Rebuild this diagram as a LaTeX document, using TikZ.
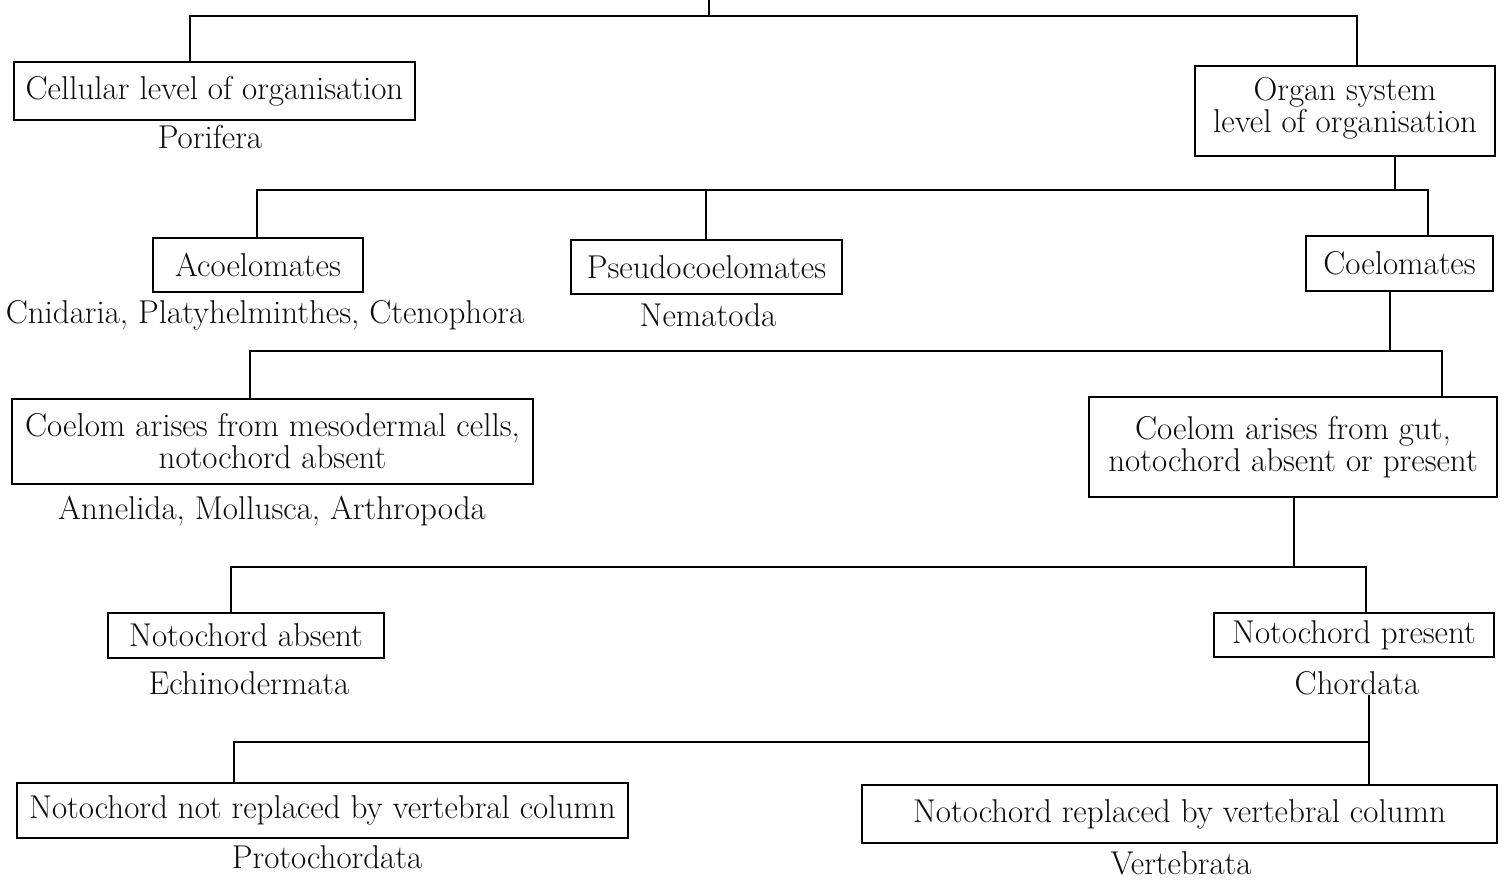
\documentclass[tikz,border=0pt]{standalone}
\begin{document}
\begin{tikzpicture}[x=0.5pt,y=-0.5pt,
  every node/.style={font=\fontsize{16.5}{16}\selectfont, text=black!95, align=center, inner sep=0pt},
  box/.style={draw=black, line width=1.2pt},
  conn/.style={draw=black, line width=1pt},
  lbl/.style={}]
\useasboundingbox[fill=white] (0,0) rectangle (1510,888);
% boxes
\node[box, minimum width=200.5pt, minimum height=29pt] (cell) at (214.5,91) {Cellular level of organisation};
\node[box, minimum width=150pt, minimum height=45pt] (organ) at (1345,111) {Organ system\\level of organisation\rule[-6pt]{0pt}{0pt}};
\node[box, minimum width=105pt, minimum height=27pt] (acoel) at (258,265) {Acoelomates};
\node[box, minimum width=135.5pt, minimum height=27pt] (pseudo) at (706.5,267) {Pseudocoelomates};
\node[box, minimum width=93.5pt, minimum height=27.5pt] (coel) at (1399.5,263.5) {Coelomates};
\node[box, minimum width=260.5pt, minimum height=42.5pt] (meso) at (272.5,441.5) {Coelom arises from mesodermal cells,\\notochord absent};
\node[box, minimum width=204pt, minimum height=50pt] (gut) at (1293,447) {Coelom arises from gut,\\notochord absent or present};
\node[box, minimum width=138pt, minimum height=22.5pt] (nabs) at (246,635.5) {Notochord absent};
\node[box, minimum width=140pt, minimum height=22pt] (npres) at (1354,635) {Notochord present};
\node[box, minimum width=305.5pt, minimum height=27.5pt] (nnot) at (322.5,810.5) {Notochord not replaced by vertebral column};
\node[box, minimum width=317.5pt, minimum height=29pt] (nrep) at (1179.5,814) {Notochord replaced by vertebral column};
% labels
\node[lbl] (porifera) at (210,137) {Porifera};
\node[lbl] (cnid) at (265,315) {Cnidaria, Platyhelminthes, Ctenophora};
\node[lbl] (nema) at (708,315) {Nematoda};
\node[lbl] (anne) at (272,511) {Annelida, Mollusca, Arthropoda};
\node[lbl] (echi) at (249,683) {Echinodermata};
\node[lbl] (chor) at (1357,683) {Chordata};
\node[lbl] (proto) at (327,857) {Protochordata};
\node[lbl] (vert) at (1181,863) {Vertebrata};
% junction coordinates
\coordinate (root) at (709,0);
\coordinate (r) at (709,16);
\coordinate (rL) at (190,16);
\coordinate (rR) at (1357,16);
\coordinate (o) at (1395,190);
\coordinate (oA) at (257,190);
\coordinate (oP) at (706,190);
\coordinate (oC) at (1428,190);
\coordinate (c) at (1390,351);
\coordinate (cL) at (250,351);
\coordinate (cR) at (1442,351);
\coordinate (g) at (1294,567);
\coordinate (gL) at (231,567);
\coordinate (gR) at (1366,567);
\coordinate (h) at (1369,742);
\coordinate (hL) at (234,742);
% connectors
\draw[conn] (root) -- (r);
\draw[conn] (rL |- cell.north) -- (rL) -- (rR) -- (rR |- organ.north);
\draw[conn] (o |- organ.south) -- (o);
\draw[conn] (oA |- acoel.north) -- (oA) -- (oC) -- (oC |- coel.north);
\draw[conn] (oP) -- (oP |- pseudo.north);
\draw[conn] (c |- coel.south) -- (c);
\draw[conn] (cL |- meso.north) -- (cL) -- (cR) -- (cR |- gut.north);
\draw[conn] (g |- gut.south) -- (g);
\draw[conn] (gL |- nabs.north) -- (gL) -- (gR) -- (gR |- npres.north);
\draw[conn] (h |- chor.south) -- (h |- nrep.north);
\draw[conn] (hL |- nnot.north) -- (hL) -- (h);
\end{tikzpicture}
\end{document}
